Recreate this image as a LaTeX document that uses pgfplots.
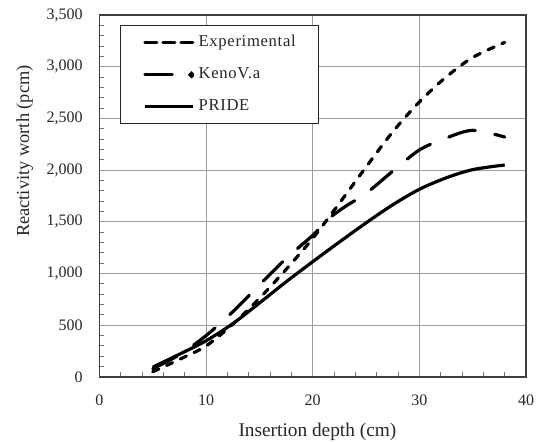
\documentclass[border=0pt]{standalone}
\usepackage{fontspec}
\setmainfont{Liberation Serif}
\newfontfamily\legendfont[LetterSpace=4]{Liberation Serif}
\usepackage{pgfplots}
\pgfplotsset{compat=1.18}

\begin{document}
\begin{tikzpicture}
\useasboundingbox (-74.55pt,-48.75pt) rectangle (327.45pt,282.75pt);
\begin{axis}[
  at={(0pt,0pt)}, anchor=south west,
  scale only axis, width=320pt, height=271.5pt,
  xmin=0, xmax=40, ymin=0, ymax=3500,
  xtick={0,10,...,40}, ytick={0,500,...,3500},
  minor x tick num=4, minor y tick num=4,
  grid=major, major grid style={draw=black!38, line width=0.75pt},
  axis line style={draw=black!75, line width=0.9pt},
  tick align=inside, major tick length=0pt, minor tick length=3.5pt,
  xtick pos=bottom, ytick pos=left,
  minor tick style={draw=black!55, line width=0.75pt},
  tick label style={font=\fontsize{12}{14}\selectfont, text=black!85},
  /pgf/number format/assume math mode=true,
  /pgf/number format/1000 sep={,},
  scaled y ticks=false,
  yticklabel style={xshift=-9pt},
  xticklabel style={yshift=-9.5pt},
  xlabel={Insertion depth (cm)},
  ylabel={Reactivity worth (pcm)},
  xlabel style={at={(axis description cs:0.511,-0.152)}, anchor=center,
    font=\fontsize{14.5}{16}\selectfont, text=black!85},
  ylabel style={at={(axis description cs:-0.175,0.624)}, anchor=center,
    font=\fontsize{13.8}{15}\selectfont, text=black!85},
  legend style={at={(axis description cs:0.0483,0.972)}, anchor=north west,
    draw=black!85, line width=0.9pt, fill=white,
    font=\legendfont\fontsize{12.5}{14}\selectfont, text=black!85,
    nodes={inner sep=0pt, text height=8.5pt, text depth=2.5pt},
    inner xsep=17pt, inner ysep=7.3pt, row sep=13pt, column sep=3pt},
  legend cell align=left,
  legend image code/.code={\draw[#1] (0pt,0pt) -- (36pt,0pt);},
]

% Measured rod worth
\addplot[black, line width=2.4pt, smooth, line cap=round,
  dash pattern=on 5pt off 6.4pt,
  legend image code/.code={\draw[black, line width=2.4pt, dash pattern=on 9pt off 4.5pt] (0pt,0pt) -- (36pt,0pt);}]
  coordinates {
  (5,50) (7.5,170) (10,300) (12.5,510) (15,760) (17.5,1040) (20,1340)
  (22.5,1680) (25,2030) (27.5,2370) (30,2660) (32.5,2900) (35,3090) (38,3235)
  };
\addlegendentry{Experimental}

% KENO V.a calculation
\addplot[black, line width=2.4pt, smooth, line cap=round,
  dash pattern=on 20.6pt off 14.9pt,
  legend image code/.code={\draw[black, line width=2.4pt] (0pt,0pt) -- (25pt,0pt);
    \fill[black] (35pt,0pt) circle (1.1pt);}]
  coordinates {
  (5,80) (7.5,215) (10,400) (12.5,630) (15,890) (17.5,1145) (20,1370)
  (21.5,1530) (23,1645) (25,1775) (27.5,1990) (30,2195) (32.5,2310) (35,2385) (38,2320)
  };
\addlegendentry{KenoV.a}

% PRIDE calculation
\addplot[black, line width=2.4pt, smooth]
  coordinates {
  (5,95) (7.5,220) (10,350) (12.5,515) (15,715) (17.5,920) (20,1115)
  (22.5,1305) (25,1490) (27.5,1665) (30,1815) (32.5,1925) (35,2005) (38,2050)
  };
\addlegendentry{PRIDE}

\end{axis}
\end{tikzpicture}
\end{document}
